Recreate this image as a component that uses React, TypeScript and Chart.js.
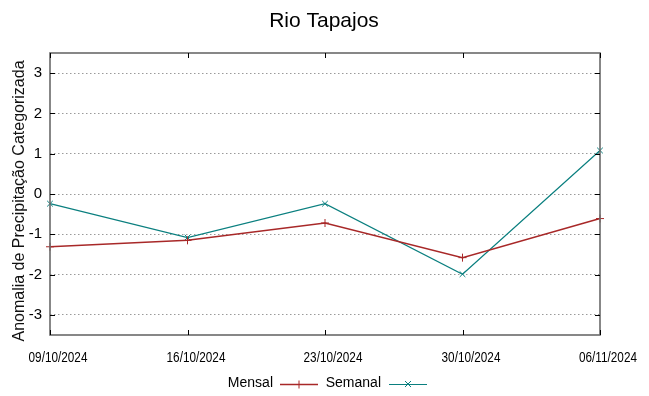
import React, { useEffect, useRef } from "react";
import { Chart, registerables } from "chart.js";

Chart.register(...registerables);

const titleText = "Rio Tapajos";
const yAxisTitle = "Anomalia de Precipitação Categorizada";
const categories = ["09/10/2024", "16/10/2024", "23/10/2024", "30/10/2024", "06/11/2024"];
const mensal = [-1.31, -1.15, -0.72, -1.58, -0.61];
const semanal = [-0.24, -1.08, -0.24, -1.99, 1.08];
const yTicks = [-3, -2, -1, 0, 1, 2, 3];
const yMin = -3.5;
const yMax = 3.5;

const FONT = "'Liberation Sans', Arial, sans-serif";

const decorPlugin = {
  id: "decor",
  afterDraw(chart: any) {
    const ctx = chart.ctx;
    const a = chart.chartArea;
    const xs = chart.scales.x;
    const ys = chart.scales.y;
    ctx.save();
    // frame
    ctx.strokeStyle = "#6a6a6a";
    ctx.lineWidth = 1.6;
    ctx.strokeRect(a.left, a.top, a.right - a.left, a.bottom - a.top);
    // inward ticks
    ctx.strokeStyle = "#000";
    ctx.lineWidth = 1;
    const tl = 5;
    ys.ticks.forEach((t: any) => {
      const y = Math.round(ys.getPixelForValue(t.value)) + 0.5;
      ctx.beginPath();
      ctx.moveTo(a.left, y);
      ctx.lineTo(a.left + tl, y);
      ctx.moveTo(a.right, y);
      ctx.lineTo(a.right - tl, y);
      ctx.stroke();
    });
    categories.forEach((c, i) => {
      const x = Math.round(xs.getPixelForValue(i)) + 0.5;
      ctx.beginPath();
      ctx.moveTo(x, a.bottom);
      ctx.lineTo(x, a.bottom - tl);
      ctx.moveTo(x, a.top);
      ctx.lineTo(x, a.top + tl);
      ctx.stroke();
      // x tick labels (narrow, gnuplot-like)
      ctx.save();
      ctx.fillStyle = "#000";
      ctx.font = `14px ${FONT}`;
      ctx.textAlign = "center";
      ctx.textBaseline = "alphabetic";
      ctx.translate(x + 7.5, 362);
      ctx.scale(0.84, 1);
      ctx.fillText(c, 0, 0);
      ctx.restore();
    });
    // title
    ctx.fillStyle = "#000";
    ctx.font = `21px ${FONT}`;
    ctx.textAlign = "center";
    ctx.textBaseline = "alphabetic";
    ctx.fillText(titleText, 324, 27);
    // y axis title
    ctx.save();
    ctx.translate(24, 201);
    ctx.rotate(-Math.PI / 2);
    ctx.font = `16px ${FONT}`;
    ctx.fillStyle = "#111";
    ctx.textAlign = "center";
    ctx.textBaseline = "alphabetic";
    ctx.fillText(yAxisTitle, 0, 0);
    ctx.restore();
    // legend (gnuplot style: text then sample)
    const ly = 384;
    ctx.font = `14px ${FONT}`;
    ctx.textBaseline = "middle";
    ctx.textAlign = "right";
    const entries = [
      { textRight: 273, x0: 280, x1: 318 },
      { textRight: 381, x0: 389, x1: 427 },
    ];
    chart.data.datasets.forEach((ds: any, i: number) => {
      const e = entries[i];
      ctx.fillStyle = "#000";
      ctx.fillText(ds.label, e.textRight, ly - 1);
      ctx.strokeStyle = ds.borderColor;
      ctx.lineWidth = ds.borderWidth;
      ctx.beginPath();
      ctx.moveTo(e.x0, ly + 0.5);
      ctx.lineTo(e.x1, ly + 0.5);
      ctx.stroke();
      const cx = (e.x0 + e.x1) / 2;
      ctx.lineWidth = 1;
      ctx.beginPath();
      if (ds.pointStyle === "cross") {
        ctx.moveTo(cx - 4, ly + 0.5);
        ctx.lineTo(cx + 4, ly + 0.5);
        ctx.moveTo(cx, ly - 3.5);
        ctx.lineTo(cx, ly + 4.5);
      } else {
        ctx.moveTo(cx - 3, ly - 3);
        ctx.lineTo(cx + 3, ly + 3);
        ctx.moveTo(cx + 3, ly - 3);
        ctx.lineTo(cx - 3, ly + 3);
      }
      ctx.stroke();
    });
    ctx.restore();
  },
};

export default function App() {
  const ref = useRef<HTMLCanvasElement>(null);
  useEffect(() => {
    document.body.style.margin = "0";
    const chart = new Chart(ref.current as HTMLCanvasElement, {
      type: "line",
      data: {
        labels: categories,
        datasets: [
          {
            label: "Mensal",
            data: mensal,
            borderColor: "#a82828",
            backgroundColor: "#a82828",
            borderWidth: 1.5,
            pointStyle: "cross",
            pointRadius: 4,
            pointBorderWidth: 1,
            tension: 0,
          },
          {
            label: "Semanal",
            data: semanal,
            borderColor: "#0a7f7f",
            backgroundColor: "#0a7f7f",
            borderWidth: 1.2,
            pointStyle: "crossRot",
            pointRadius: 4,
            pointBorderWidth: 1,
            tension: 0,
          },
        ],
      },
      options: {
        animation: false,
        responsive: false,
        layout: { padding: { left: 0, right: 49, top: 53, bottom: 0 } },
        plugins: {
          legend: { display: false },
          title: { display: false },
          tooltip: { enabled: false },
        },
        scales: {
          x: {
            type: "category",
            offset: false,
            grid: { display: false, drawTicks: false },
            border: { display: false },
            ticks: { display: false, autoSkip: false },
            afterFit(scale: any) {
              scale.height = 61;
              scale.paddingLeft = 0;
              scale.paddingRight = 0;
            },
          },
          y: {
            type: "linear",
            min: yMin,
            max: yMax,
            grid: {
              color: "#9a9a9a",
              lineWidth: 1,
              drawTicks: false,
            },
            border: { display: false, dash: [1.5, 2.5] },
            ticks: {
              color: "#000",
              font: { family: FONT, size: 15 },
              padding: 8,
            },
            afterBuildTicks(scale: any) {
              scale.ticks = yTicks.map((v) => ({ value: v }));
            },
            afterFit(scale: any) {
              scale.width = 50;
              scale.paddingTop = 0;
              scale.paddingBottom = 0;
            },
          },
        },
      } as any,
      plugins: [decorPlugin],
    });
    return () => chart.destroy();
  }, []);
  return <canvas ref={ref} width={649} height={396} style={{ display: "block" }} />;
}
